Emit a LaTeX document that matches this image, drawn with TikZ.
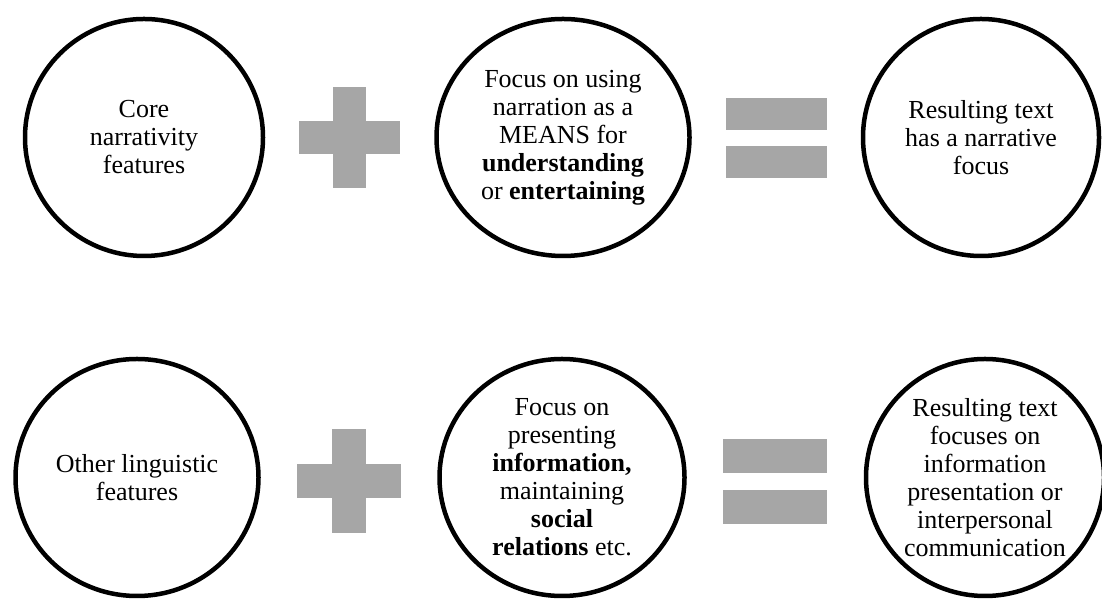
\documentclass[tikz,border=0pt]{standalone}
\usepackage{fontspec}
\setmainfont{Liberation Serif}
\usepackage{xcolor}
\usetikzlibrary{shapes.geometric, positioning}
\definecolor{SignGray}{RGB}{166,166,166}

\begin{document}
\begin{tikzpicture}[x=1pt, y=1pt,
  bubble/.style={ellipse, draw=black, line width=4.5pt, inner sep=0pt,
                 minimum height=237pt, align=center,
                 font=\fontsize{26}{28}\selectfont},
  signbar/.style={rectangle, fill=SignGray, draw=none, inner sep=0pt}]
\useasboundingbox (0,0) rectangle (1102,601);

% Top row: narrative focus
\node[bubble, minimum width=238pt] (core) at (144,463.5)
  {Core\\narrativity\\features};
\node[bubble, minimum width=253pt] (means) at (563,463.5)
  {Focus on using\\narration as a\\MEANS for\\\textbf{understanding}\\or \textbf{entertaining}};
\node[bubble, minimum width=236pt] (narrres) at (981,463.5)
  {Resulting text\\has a narrative\\focus};

% Bottom row: other functions
\node[bubble, minimum width=243pt] (other) at (137,123.5)
  {Other linguistic\\features};
\node[bubble, minimum width=245pt] (present) at (562,123.5)
  {Focus on\\presenting\\\textbf{information,}\\maintaining\\\textbf{social}\\\textbf{relations} etc.};
\node[bubble, minimum width=238pt] (infores) at (985,123.5)
  {Resulting text\\focuses on\\information\\presentation or\\interpersonal\\communication};

% Plus signs
\node[signbar, minimum width=101pt, minimum height=33pt] (plusAh) at (349.5,463) {};
\node[signbar, minimum width=33pt, minimum height=101pt] (plusAv) at (349.5,463) {};
\node[signbar, minimum width=104pt, minimum height=34pt] (plusBh) at (349,120) {};
\node[signbar, minimum width=34pt, minimum height=104pt] (plusBv) at (349,120) {};

% Equals signs
\node[signbar, minimum width=101pt, minimum height=32pt] (eqA1) at (776.5,487) {};
\node[signbar, minimum width=101pt, minimum height=32pt, below=16pt of eqA1] (eqA2) {};
\node[signbar, minimum width=104pt, minimum height=34pt] (eqB1) at (775,145) {};
\node[signbar, minimum width=104pt, minimum height=34pt, below=17pt of eqB1] (eqB2) {};

\end{tikzpicture}
\end{document}
